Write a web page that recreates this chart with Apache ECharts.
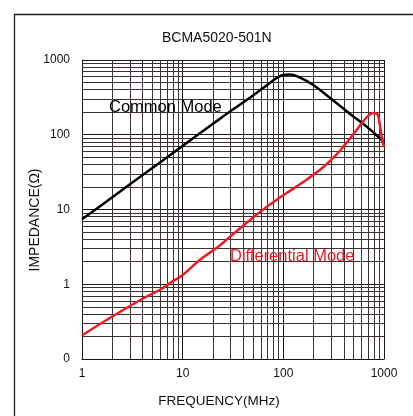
<!DOCTYPE html>
<html><head><meta charset="utf-8">
<script src="https://cdn.jsdelivr.net/npm/echarts@6/dist/echarts.min.js"></script>
<style>html,body{margin:0;padding:0;background:#fff}#c{width:413px;height:416px}</style>
</head><body><div id="c"></div>
<script>
// ---- data ----
const cmFreq = [1, 2, 5, 10, 20, 30, 50, 70, 85, 100, 115, 140, 200, 300, 460, 620, 800, 950, 1000];
const cmImp  = [7.4, 14.6, 36, 71, 140, 208, 335, 470, 570, 630, 640, 600, 460, 300, 190, 140, 105, 85, 78];
const dmFreq = [1, 2, 4, 6, 8, 10, 15, 22, 30, 60, 100, 170, 250, 340, 400, 500, 620, 700, 780, 850, 880, 910, 950, 1000];
const dmImp  = [0.207, 0.37, 0.64, 0.85, 1.1, 1.33, 2.15, 3.1, 4.4, 9.5, 15.5, 25, 37, 55, 71, 103, 150, 180, 195, 190, 175, 135, 95, 68];
const xMinorGrid = [2,3,4,5,6,7,8,9,20,30,40,50,60,70,80,90,200,300,400,500,600,700,800,900];
const yMinorGrid = [0.2,0.3,0.4,0.5,0.6,0.7,0.8,0.9,2,3,4,5,6,7,8,9,20,30,40,50,60,70,80,90,200,300,400,500,600,700,800,900];
const chartTitle = 'BCMA5020-501N';
const xName = 'FREQUENCY(MHz)';
const yName = 'IMPEDANCE(Ω)';
const cmName = 'Common Mode';
const dmName = 'Differential Mode';

const FONT = '"Liberation Sans", Arial, sans-serif';
const chart = echarts.init(document.getElementById('c'), null, {renderer: 'canvas'});
const pair = (xs, ys) => xs.map((x, i) => [x, ys[i]]);
const minorLines = xMinorGrid.map(v => ({xAxis: v})).concat(yMinorGrid.map(v => ({yAxis: v})));

chart.setOption({
  animation: false,
  backgroundColor: '#fff',
  title: {
    text: chartTitle, left: 162, top: 31, padding: 0,
    textStyle: {fontFamily: FONT, fontSize: 14, fontWeight: 'normal', color: '#111'}
  },
  grid: {left: 82, right: 29, top: 60, bottom: 57},
  xAxis: {
    type: 'log', logBase: 10, min: 1, max: 1000,
    axisLine: {show: true, lineStyle: {color: '#1a1616', width: 1}},
    axisTick: {show: false},
    axisLabel: {fontFamily: FONT, fontSize: 12, color: '#111', margin: 9,
      formatter: v => String(Math.round(v))},
    splitLine: {show: true, lineStyle: {color: '#1a1616', width: 1}}
  },
  yAxis: {
    type: 'log', logBase: 10, min: 0.1, max: 1000,
    axisLine: {show: true, lineStyle: {color: '#1a1616', width: 1}},
    axisTick: {show: false},
    axisLabel: {fontFamily: FONT, fontSize: 12, color: '#111', margin: 12,
      formatter: v => v < 1 ? '0' : String(Math.round(v))},
    splitLine: {show: true, lineStyle: {color: '#1a1616', width: 1}}
  },
  graphic: [
    {type: 'line', shape: {x1: 14, y1: 14.5, x2: 413, y2: 14.5}, style: {stroke: '#231f20', lineWidth: 1.3}},
    {type: 'line', shape: {x1: 14.5, y1: 14, x2: 14.5, y2: 416}, style: {stroke: '#231f20', lineWidth: 1.3}},
    {type: 'text', x: 219, y: 401, style: {text: xName, font: '13.5px ' + FONT, fill: '#111', align: 'center', verticalAlign: 'middle'}},
    {type: 'text', x: 35, y: 220, rotation: Math.PI / 2, style: {text: yName, font: '14px ' + FONT, fill: '#111', align: 'center', verticalAlign: 'middle'}},
    {type: 'text', x: 109, y: 107, z: 100, style: {text: cmName, font: '16.5px ' + FONT, fill: '#000', align: 'left', verticalAlign: 'middle'}},
    {type: 'text', x: 230, y: 256, z: 100, style: {text: dmName, font: '16.5px ' + FONT, fill: '#ed1c24', align: 'left', verticalAlign: 'middle'}}
  ],
  series: [
    {
      type: 'line', name: 'grid', data: [], silent: true,
      markLine: {silent: true, symbol: ['none', 'none'], label: {show: false},
        lineStyle: {color: '#3a3232', width: 1, type: 'solid'}, emphasis: {disabled: true},
        data: minorLines}
    },
    {
      type: 'line', name: cmName, data: pair(cmFreq, cmImp), showSymbol: false,
      smooth: 0.4, lineStyle: {color: '#000', width: 2.5}, z: 5
    },
    {
      type: 'line', name: dmName, data: pair(dmFreq, dmImp), showSymbol: false,
      smooth: 0.4, lineStyle: {color: '#ed1c24', width: 2.5}, z: 6
    }
  ]
});
</script></body></html>
